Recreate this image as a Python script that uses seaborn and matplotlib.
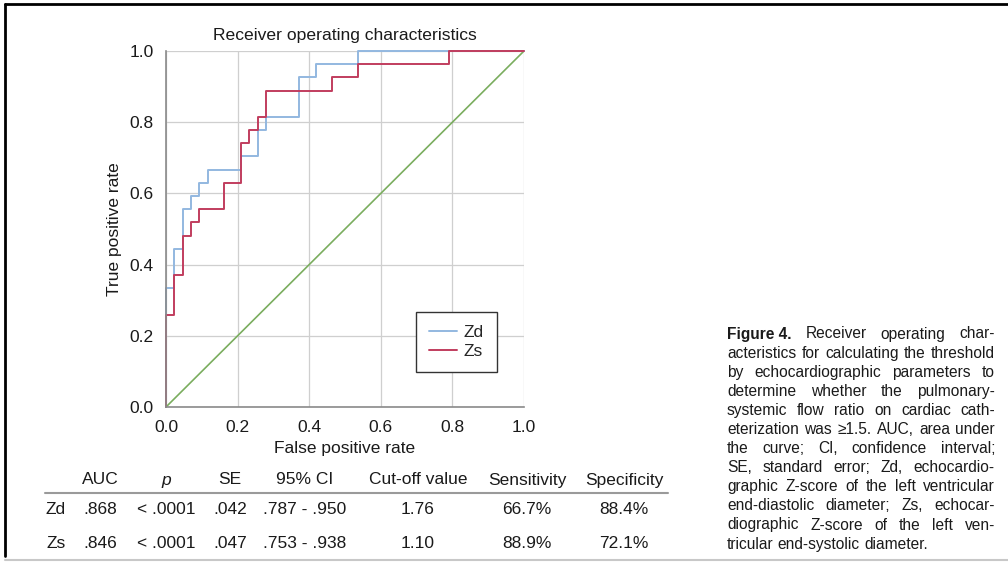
import numpy as np
import pandas as pd
import matplotlib
matplotlib.use("Agg")
import matplotlib.pyplot as plt
from matplotlib.lines import Line2D
import seaborn as sns

# ---------------- data ----------------
zd_fpr = [0.0, 0.0, 0.023, 0.023, 0.047, 0.047, 0.070, 0.070, 0.093, 0.093,
          0.116, 0.116, 0.209, 0.209, 0.256, 0.256, 0.279, 0.279, 0.372, 0.372,
          0.419, 0.419, 0.535, 0.535, 1.0]
zd_tpr = [0.0, 0.333, 0.333, 0.444, 0.444, 0.556, 0.556, 0.593, 0.593, 0.630,
          0.630, 0.667, 0.667, 0.704, 0.704, 0.778, 0.778, 0.815, 0.815, 0.926,
          0.926, 0.963, 0.963, 1.0, 1.0]
zs_fpr = [0.0, 0.0, 0.023, 0.023, 0.047, 0.047, 0.070, 0.070, 0.093, 0.093,
          0.163, 0.163, 0.209, 0.209, 0.233, 0.233, 0.256, 0.256, 0.279, 0.279,
          0.465, 0.465, 0.535, 0.535, 0.791, 0.791, 1.0]
zs_tpr = [0.0, 0.259, 0.259, 0.370, 0.370, 0.481, 0.481, 0.519, 0.519, 0.556,
          0.556, 0.630, 0.630, 0.741, 0.741, 0.778, 0.778, 0.815, 0.815, 0.889,
          0.889, 0.926, 0.926, 0.963, 0.963, 1.0, 1.0]
ref_fpr = [0.0, 1.0]
ref_tpr = [0.0, 1.0]
series_names = ["Zd", "Zs"]
ticks = [0.0, 0.2, 0.4, 0.6, 0.8, 1.0]
tick_labels = ["0.0", "0.2", "0.4", "0.6", "0.8", "1.0"]

table_cols = ["AUC", "p", "SE", "95% CI", "Cut-off value", "Sensitivity", "Specificity"]
row_names = ["Zd", "Zs"]
auc = [".868", ".846"]
pval = ["< .0001", "< .0001"]
se = [".042", ".047"]
ci = [".787 - .950", ".753 - .938"]
cutoff = ["1.76", "1.10"]
sens = ["66.7%", "88.9%"]
spec = ["88.4%", "72.1%"]

caption_lines = [
    "Receiver operating char-",
    "acteristics for calculating the threshold",
    "by echocardiographic parameters to",
    "determine whether the pulmonary-",
    "systemic flow ratio on cardiac cath-",
    "eterization was \u22651.5. AUC, area under",
    "the curve; CI, confidence interval;",
    "SE, standard error; Zd, echocardio-",
    "graphic Z-score of the left ventricular",
    "end-diastolic diameter; Zs, echocar-",
    "diographic Z-score of the left ven-",
    "tricular end-systolic diameter.",
]

# ---------------- style ----------------
sns.set_theme(style="whitegrid")
plt.rcParams['font.family'] = ['Liberation Sans', 'DejaVu Sans']

W, H = 1008, 569
fig = plt.figure(figsize=(W / 100, H / 100), dpi=100)
fig.patch.set_facecolor("white")

def fx(x):
    return x / W

def fy(y):
    return 1 - y / H

ax_l, ax_r, ax_t, ax_b = 166, 524, 51, 407
ax = fig.add_axes([fx(ax_l), fy(ax_b), (ax_r - ax_l) / W, (ax_b - ax_t) / H])
ax.set_facecolor("white")

df = pd.concat([
    pd.DataFrame({"fpr": zd_fpr, "tpr": zd_tpr, "series": series_names[0]}),
    pd.DataFrame({"fpr": zs_fpr, "tpr": zs_tpr, "series": series_names[1]}),
], ignore_index=True)
ref = pd.DataFrame({"fpr": ref_fpr, "tpr": ref_tpr})

palette = {"Zd": "#93b8e0", "Zs": "#c13d5e"}
sns.lineplot(data=ref, x="fpr", y="tpr", color="#7aad5e", linewidth=1.2,
             sort=False, estimator=None, ax=ax, legend=False)
sns.lineplot(data=df, x="fpr", y="tpr", hue="series", hue_order=series_names,
             palette=palette, linewidth=1.4, sort=False, estimator=None, ax=ax)
for ln in ax.lines:
    ln.set_clip_on(False)

ax.set_xlim(0, 1)
ax.set_ylim(0, 1)
ax.set_xticks(ticks)
ax.set_xticklabels(tick_labels)
ax.set_yticks(ticks)
ax.set_yticklabels(tick_labels)
ax.tick_params(labelsize=12.5, colors="#1a1a1a", pad=3)
ax.grid(True, color="#cfcfcf", linewidth=0.9)
for s in ["top", "right"]:
    ax.spines[s].set_visible(False)
for s in ["left", "bottom"]:
    ax.spines[s].set_color("#8a8a8a")
    ax.spines[s].set_linewidth(1.2)
ax.set_xlabel("False positive rate", fontsize=12.5, color="#1a1a1a", labelpad=5)
ax.set_ylabel("True positive rate", fontsize=12.5, color="#1a1a1a", labelpad=5)
ax.set_title("Receiver operating characteristics", fontsize=12.6, color="#1a1a1a", pad=8)

handles, labels = ax.get_legend_handles_labels()
leg = ax.legend(handles, labels, loc="lower right",
                bbox_to_anchor=((497 - ax_l) / (ax_r - ax_l), (ax_b - 372) / (ax_b - ax_t)),
                frameon=True, fancybox=False, edgecolor="#333333", framealpha=1,
                fontsize=12.5, handlelength=1.6, handletextpad=0.4,
                borderpad=0.75, labelspacing=0.2, borderaxespad=0)
leg.get_frame().set_linewidth(1.0)

# ---------------- table ----------------
col_x = [100, 166, 230, 305, 418, 527, 624]
row_label_x = 56
header_y = 480
row_y = [510, 543]
tkw = dict(fontsize=12.5, color="#1a1a1a", ha="center", va="center")
for name, x in zip(table_cols, col_x):
    fig.text(fx(x), fy(header_y), name, style="italic" if name == "p" else "normal", **tkw)
fig.add_artist(Line2D([fx(45), fx(668)], [fy(493), fy(493)], color="#9a9a9a", linewidth=1.5))
cols = [auc, pval, se, ci, cutoff, sens, spec]
for i, rname in enumerate(row_names):
    fig.text(fx(row_label_x), fy(row_y[i]), rname, **tkw)
    for vals, x in zip(cols, col_x):
        fig.text(fx(x), fy(row_y[i]), vals[i], **tkw)

# ---------------- caption (justified) ----------------
renderer = fig.canvas.get_renderer()
cap_left, cap_right = 727, 995
cap_top, cap_step = 334, 19.1

def width_px(s, fs, **kw):
    t = fig.text(0, 0, s, fontsize=fs, **kw)
    w = t.get_window_extent(renderer).width
    t.remove()
    return w

# choose the largest size (<= 11.2pt) at which every line fits naturally
cap_fs = 11.2
for i, line in enumerate(caption_lines):
    s = ("Figure 4.   " + line) if i == 0 else line
    w = width_px(s, 10.0)
    cap_fs = min(cap_fs, 10.0 * (cap_right - cap_left - 2) / w)

for i, line in enumerate(caption_lines):
    y = fy(cap_top + i * cap_step)
    words = line.split(" ")
    tokens = [(w, "normal") for w in words]
    if i == 0:
        tokens = [("Figure 4.", "bold")] + tokens
    widths = [width_px(w, cap_fs, fontweight=b) for w, b in tokens]
    last = i == len(caption_lines) - 1
    if last:
        gap = width_px("a b", cap_fs) - width_px("ab", cap_fs)
    else:
        gap = (cap_right - cap_left - sum(widths)) / (len(tokens) - 1)
    x = cap_left
    for (w, b), wd in zip(tokens, widths):
        fig.text(fx(x), y, w, fontsize=cap_fs, fontweight=b, color="#1a1a1a",
                 ha="left", va="center")
        x += wd + gap

# ---------------- page border ----------------
fig.add_artist(Line2D([fx(5), fx(5)], [fy(4), fy(556)], color="black", linewidth=2))
fig.add_artist(Line2D([fx(5), fx(1008)], [fy(4), fy(4)], color="black", linewidth=2))
fig.add_artist(Line2D([fx(5), fx(1008)], [fy(560), fy(560)], color="#c8c8c8", linewidth=1.5))

fig.savefig("out.png", dpi=100, facecolor="white")
